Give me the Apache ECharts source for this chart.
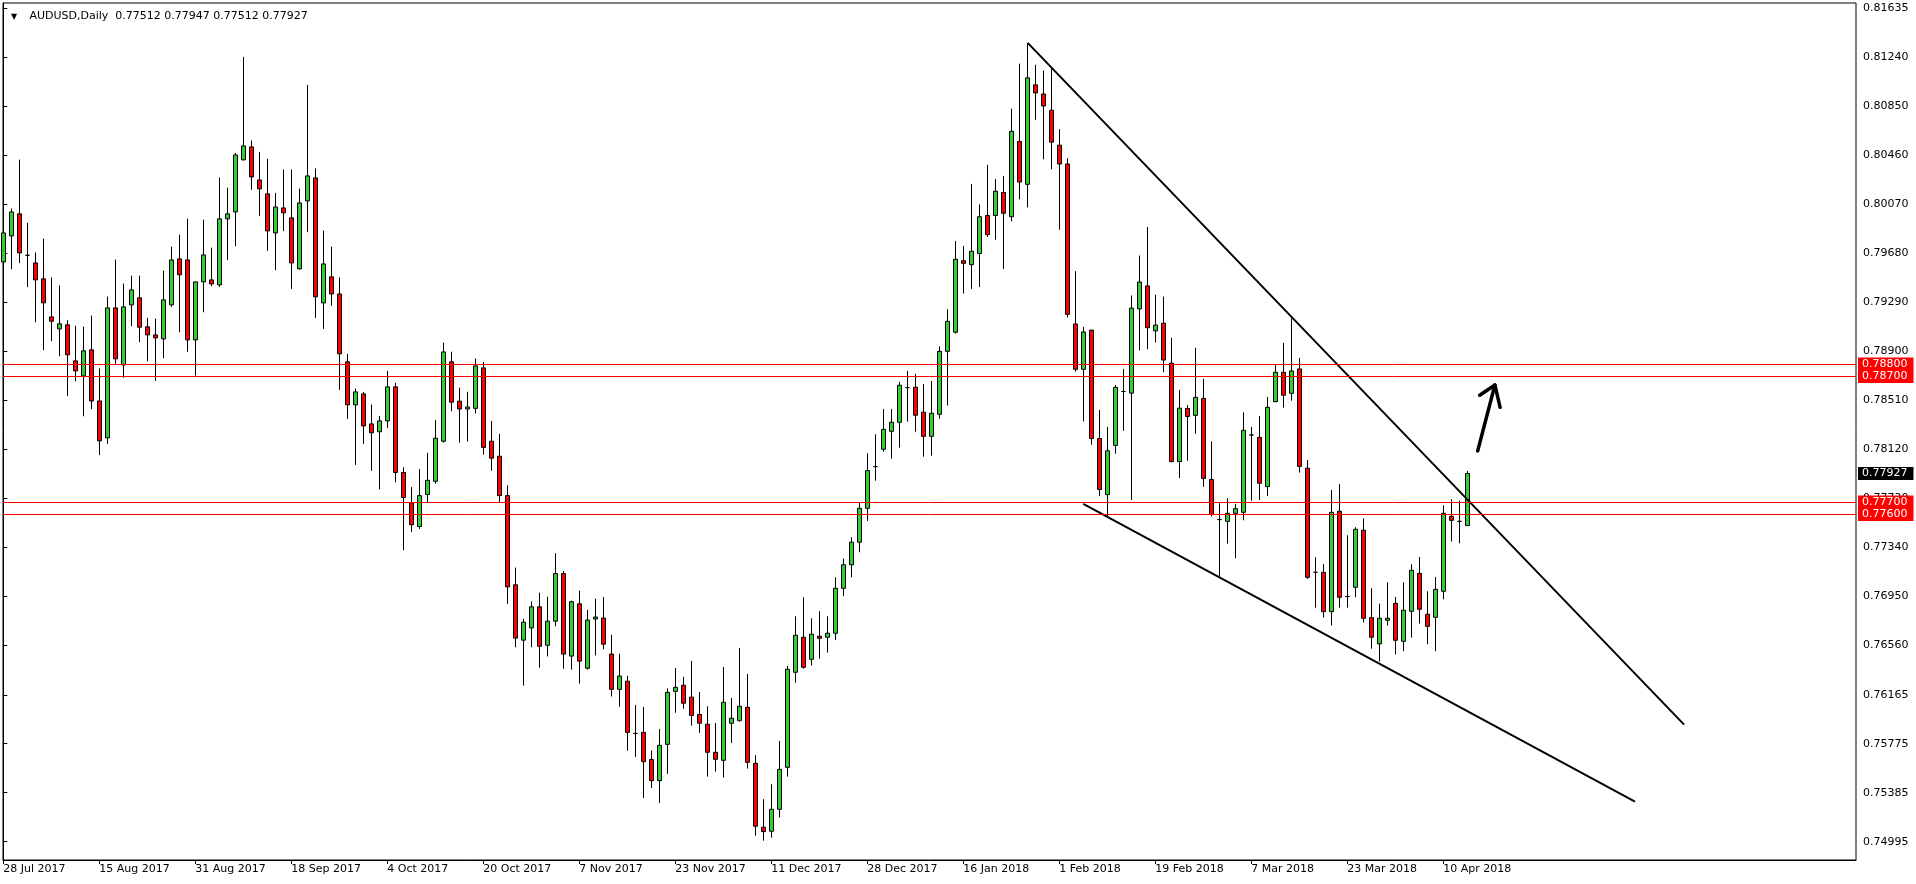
<!DOCTYPE html>
<html>
<head>
<meta charset="utf-8">
<script src="https://cdn.jsdelivr.net/npm/echarts@6/dist/echarts.min.js"></script>
<style>
html,body{margin:0;padding:0;background:#fff;}
#chart{width:1916px;height:884px;}
</style>
</head>
<body>
<div id="chart"></div>
<script>
// ---- Data (AUDUSD Daily, bar index 0 = 28 Jul 2017) ----
const opens = [
0.79612,0.79819,0.79995,0.79665,0.79604,0.79477,0.79174,0.79079,0.79111,0.78824,
0.78704,0.78912,0.78505,0.78211,0.79246,0.78792,0.79270,0.79326,0.79095,0.79031,
0.78999,0.79270,0.79636,0.79628,0.78991,0.79453,0.79469,0.79429,0.79955,0.80010,
0.80425,0.80528,0.80265,0.80154,0.79843,0.80042,0.79963,0.79557,0.80098,0.80281,
0.79286,0.79493,0.79357,0.78816,0.78474,0.78561,0.78322,0.78259,0.78346,0.78617,
0.77935,0.77695,0.77505,0.77760,0.77865,0.78184,0.78816,0.78503,0.78441,0.78446,
0.78768,0.78184,0.78065,0.77751,0.77041,0.76600,0.76697,0.76865,0.76559,0.76751,
0.77130,0.76473,0.76889,0.76376,0.76768,0.76776,0.76489,0.76208,0.76273,0.75857,
0.75865,0.75649,0.75481,0.75770,0.76192,0.76241,0.76146,0.76008,0.75930,0.75707,
0.75643,0.75938,0.75959,0.76065,0.75619,0.75110,0.75078,0.75253,0.75587,0.76344,
0.76623,0.76447,0.76631,0.76623,0.76655,0.77013,0.77200,0.77380,0.77650,0.77982,
0.78120,0.78263,0.78335,0.78611,0.78614,0.78415,0.78223,0.78399,0.78900,0.79052,
0.79622,0.79590,0.79679,0.79982,0.79982,0.80165,0.79972,0.80572,0.80230,0.81022,
0.80949,0.80820,0.80542,0.80392,0.79118,0.78757,0.79069,0.78206,0.77759,0.78151,
0.78580,0.78567,0.79238,0.79421,0.79063,0.79124,0.78806,0.78022,0.78445,0.78390,
0.78525,0.77879,0.77560,0.77546,0.77610,0.77618,0.78234,0.78215,0.77823,0.78499,
0.78733,0.78566,0.78760,0.77969,0.77140,0.77140,0.76827,0.77626,0.76947,0.77021,
0.77475,0.76779,0.76570,0.76758,0.76893,0.76591,0.76830,0.77132,0.76806,0.76782,
0.76989,0.77586,0.77546,0.77512
];
const highs = [
0.80077,0.80037,0.80427,0.79923,0.79687,0.79798,0.79488,0.79424,0.79148,0.79103,
0.79097,0.79185,0.78763,0.79336,0.79631,0.79440,0.79503,0.79503,0.79166,0.79161,
0.79543,0.79734,0.79830,0.79957,0.79453,0.79949,0.79726,0.80284,0.80204,0.80480,
0.81245,0.80579,0.80488,0.80433,0.80162,0.80348,0.80348,0.80196,0.81022,0.80356,
0.79862,0.79734,0.79488,0.78880,0.78604,0.78577,0.78476,0.78386,0.78744,0.78649,
0.77976,0.77819,0.77962,0.78092,0.78354,0.78970,0.78897,0.78611,0.78578,0.78843,
0.78816,0.78346,0.78243,0.77832,0.77178,0.76770,0.76908,0.76978,0.76946,0.77292,
0.77151,0.76914,0.76995,0.76841,0.76930,0.76943,0.76643,0.76492,0.76316,0.76084,
0.76068,0.75722,0.75892,0.76216,0.76378,0.76308,0.76435,0.76187,0.76073,0.75940,
0.76386,0.76140,0.76538,0.76331,0.75683,0.75333,0.75452,0.75797,0.76394,0.76790,
0.76941,0.76774,0.76830,0.76790,0.77100,0.77250,0.77420,0.77700,0.78088,0.78239,
0.78441,0.78441,0.78656,0.78744,0.78720,0.78640,0.78664,0.78940,0.79235,0.79779,
0.79739,0.80233,0.80070,0.80386,0.80272,0.80297,0.80833,0.81191,0.81356,0.81182,
0.81136,0.81166,0.80670,0.80438,0.79538,0.79094,0.79069,0.78433,0.78298,0.78632,
0.78760,0.79345,0.79663,0.79890,0.79351,0.79336,0.79008,0.78592,0.78472,0.78929,
0.78681,0.78182,0.77690,0.77730,0.77684,0.78414,0.78298,0.78385,0.78537,0.78791,
0.78967,0.79163,0.78847,0.78035,0.77260,0.77207,0.77796,0.77844,0.77435,0.77499,
0.77570,0.77013,0.76891,0.77061,0.76944,0.77061,0.77204,0.77262,0.76989,0.77103,
0.77674,0.77722,0.77711,0.77947
];
const lows = [
0.79365,0.79554,0.79602,0.79411,0.79132,0.78909,0.78981,0.78861,0.78543,0.78662,
0.78383,0.78439,0.78073,0.78163,0.78800,0.78689,0.79100,0.78973,0.78821,0.78665,
0.78845,0.79254,0.79052,0.78896,0.78707,0.79211,0.79419,0.79413,0.79626,0.79737,
0.80420,0.80186,0.79979,0.79700,0.79546,0.79857,0.79397,0.79550,0.79849,0.79166,
0.79079,0.79262,0.78593,0.78362,0.77996,0.78163,0.77948,0.77800,0.78290,0.77857,
0.77316,0.77460,0.77486,0.77700,0.77846,0.78173,0.78422,0.78173,0.78181,0.78405,
0.78078,0.77949,0.77695,0.76889,0.76543,0.76238,0.76543,0.76381,0.76470,0.76711,
0.76373,0.76365,0.76254,0.76365,0.76478,0.76527,0.76151,0.76070,0.75719,0.75670,
0.75343,0.75422,0.75303,0.75535,0.76022,0.76054,0.75919,0.75862,0.75513,0.75553,
0.75505,0.75781,0.75951,0.75577,0.75043,0.75003,0.75027,0.75187,0.75513,0.76262,
0.76373,0.76397,0.76453,0.76501,0.76600,0.76950,0.77100,0.77300,0.77550,0.77870,
0.78101,0.78046,0.78133,0.78340,0.78261,0.78061,0.78069,0.78364,0.78468,0.79041,
0.79360,0.79397,0.79412,0.79810,0.79789,0.79556,0.79936,0.80110,0.80046,0.80744,
0.80429,0.80349,0.79868,0.79170,0.78739,0.78341,0.78157,0.77747,0.77585,0.78084,
0.78267,0.77716,0.78907,0.78916,0.78971,0.78733,0.78015,0.77891,0.78029,0.78243,
0.77820,0.77585,0.77105,0.77369,0.77252,0.77554,0.77711,0.77716,0.77748,0.78495,
0.78452,0.78507,0.77934,0.77087,0.76859,0.76779,0.76716,0.76859,0.76859,0.76941,
0.76740,0.76532,0.76429,0.76716,0.76487,0.76511,0.76620,0.76732,0.76567,0.76511,
0.76925,0.77385,0.77371,0.77512
];
const closes = [
0.79843,0.80010,0.79684,0.79665,0.79469,0.79286,0.79140,0.79119,0.78872,0.78744,
0.78904,0.78505,0.78187,0.79246,0.78840,0.79254,0.79389,0.79092,0.79031,0.79007,
0.79310,0.79628,0.79509,0.78991,0.79453,0.79668,0.79437,0.79955,0.79995,0.80464,
0.80536,0.80289,0.80194,0.79859,0.80050,0.80003,0.79604,0.80082,0.80297,0.79334,
0.79596,0.79357,0.78880,0.78474,0.78577,0.78306,0.78251,0.78346,0.78617,0.77935,
0.77735,0.77519,0.77751,0.77873,0.78208,0.78895,0.78495,0.78441,0.78457,0.78784,
0.78135,0.78049,0.77751,0.77024,0.76616,0.76743,0.76865,0.76551,0.76751,0.77130,
0.76489,0.76906,0.76433,0.76760,0.76784,0.76568,0.76208,0.76314,0.75865,0.75857,
0.75632,0.75481,0.75762,0.76184,0.76224,0.76097,0.76000,0.75938,0.75707,0.75651,
0.76105,0.75978,0.76073,0.75627,0.75118,0.75075,0.75253,0.75571,0.76368,0.76639,
0.76384,0.76647,0.76615,0.76655,0.77013,0.77200,0.77380,0.77650,0.77950,0.77982,
0.78279,0.78335,0.78630,0.78611,0.78391,0.78223,0.78407,0.78900,0.79139,0.79633,
0.79601,0.79697,0.79972,0.79829,0.80175,0.80000,0.80652,0.80248,0.81078,0.80958,
0.80854,0.80566,0.80392,0.79195,0.78757,0.79054,0.78206,0.77799,0.78108,0.78613,
0.78580,0.79244,0.79452,0.79088,0.79109,0.78831,0.78022,0.78448,0.78381,0.78534,
0.77888,0.77600,0.77560,0.77610,0.77647,0.78271,0.78234,0.77849,0.78454,0.78733,
0.78550,0.78744,0.77984,0.77100,0.77140,0.76827,0.77618,0.76941,0.76947,0.77483,
0.76774,0.76623,0.76774,0.76774,0.76599,0.76838,0.77156,0.76846,0.76710,0.77005,
0.77610,0.77554,0.77546,0.77927
];
const xLabelBars = [0,12,24,36,48,60,72,84,96,108,120,132,144,156,168,180];
const xLabelTexts = ['28 Jul 2017','15 Aug 2017','31 Aug 2017','18 Sep 2017','4 Oct 2017','20 Oct 2017',
  '7 Nov 2017','23 Nov 2017','11 Dec 2017','28 Dec 2017','16 Jan 2018','1 Feb 2018','19 Feb 2018',
  '7 Mar 2018','23 Mar 2018','10 Apr 2018'];
const yTickValues = [0.81635,0.81240,0.80850,0.80460,0.80070,0.79680,0.79290,0.78900,0.78510,0.78120,
  0.77730,0.77340,0.76950,0.76560,0.76165,0.75775,0.75385,0.74995];
const levels = [0.78800,0.78700,0.77700,0.77600];
const lastPrice = 0.77927;
const titleText = 'AUDUSD,Daily  0.77512 0.77947 0.77512 0.77927';
const upperTrend = [[128.05,0.81356],[210.1,0.75927]];
const lowerTrend = [[135.0,0.77686],[203.96,0.75314]];
const arrowShaft = [[184.3,0.78107],[186.45,0.78632]];
const arrowHead = [[184.55,0.78550],[186.45,0.78632],[187.1,0.78454]];

// ---- Build ----
const FONT = 'DejaVu Sans';
const candleData = opens.map((o,i)=>[i,o,closes[i],lows[i],highs[i]]);

const levelMarks = levels.map(v=>({yAxis:v,label:{formatter:v.toFixed(5)}}));
const lastMark = [{yAxis:lastPrice,label:{formatter:lastPrice.toFixed(5)}}];

const markLabel = {position:'end',distance:2,color:'#ffffff',backgroundColor:'#FF0000',
  padding:[1,6,0,4],fontSize:11,fontFamily:FONT,lineHeight:12};

const chart = echarts.init(document.getElementById('chart'),null,{renderer:'canvas'});
chart.setOption({
  animation:false,
  backgroundColor:'#ffffff',
  textStyle:{fontFamily:FONT},
  title:{
    text:'{t|▼} '+titleText,
    left:6, top:6,
    textStyle:{fontFamily:FONT,fontSize:11,fontWeight:'normal',color:'#000000',
      rich:{t:{fontSize:8,width:15,fontFamily:FONT,color:'#000000'}}}
  },
  grid:{left:3,right:60,top:3,bottom:24,show:true,borderColor:'#000000',borderWidth:1,backgroundColor:'#ffffff'},
  xAxis:{
    type:'value', min:-0.0375, max:231.5875,
    splitLine:{show:false},
    axisLine:{show:true,lineStyle:{color:'#000000',width:1}},
    axisTick:{show:true,length:4,inside:false,customValues:xLabelBars,lineStyle:{color:'#000000'}},
    axisLabel:{customValues:xLabelBars,align:'left',margin:4,fontSize:11,fontFamily:FONT,color:'#000000',
      formatter:v=>{const k=xLabelBars.indexOf(Math.round(v));return k>=0?xLabelTexts[k]:'';}}
  },
  yAxis:{
    type:'value', position:'right', min:0.74849, max:0.81674, scale:true,
    splitLine:{show:false},
    axisLine:{show:true,lineStyle:{color:'#000000',width:1}},
    axisTick:{show:true,length:4,inside:false,customValues:yTickValues,lineStyle:{color:'#000000'}},
    axisLabel:{customValues:yTickValues,margin:7,fontSize:11,fontFamily:FONT,color:'#000000',
      formatter:v=>v.toFixed(5)}
  },
  series:[
    {
      type:'candlestick',
      data:candleData,
      barWidth:4,
      silent:true,
      itemStyle:{color:'#32CD32',color0:'#FF0000',borderColor:'#000000',borderColor0:'#000000',
        borderColorDoji:'#000000',borderWidth:1}
    },
    {
      type:'line', data:[], silent:true, z:5,
      markLine:{
        silent:true, symbol:'none', animation:false, precision:5,
        lineStyle:{color:'#FF0000',width:1,type:'solid'},
        label:markLabel,
        emphasis:{disabled:true},
        data:levelMarks
      }
    },
    {
      type:'line', data:[], silent:true, z:6,
      markLine:{
        silent:true, symbol:'none', animation:false, precision:5,
        lineStyle:{color:'rgba(0,0,0,0)',width:1,type:'solid'},
        label:Object.assign({},markLabel,{backgroundColor:'#000000'}),
        emphasis:{disabled:true},
        data:lastMark
      }
    },
    {type:'line',data:upperTrend,symbol:'none',silent:true,z:3,lineStyle:{color:'#000000',width:2}},
    {type:'line',data:lowerTrend,symbol:'none',silent:true,z:3,lineStyle:{color:'#000000',width:2}},
    {type:'line',data:arrowShaft,symbol:'none',silent:true,z:4,lineStyle:{color:'#000000',width:3.5,cap:'round'}},
    {type:'line',data:arrowHead,symbol:'none',silent:true,z:4,lineStyle:{color:'#000000',width:3.5,cap:'round',join:'round'}}
  ]
});
</script>
</body>
</html>
